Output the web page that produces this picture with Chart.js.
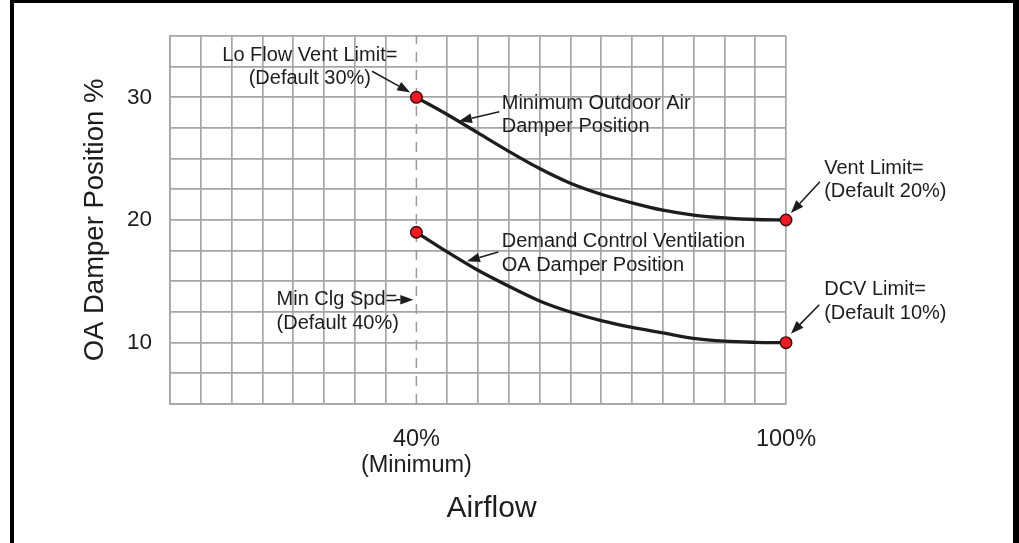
<!DOCTYPE html>
<html>
<head>
<meta charset="utf-8">
<script src="https://cdn.jsdelivr.net/npm/chart.js@4.4.1/dist/chart.umd.min.js"></script>
<style>
  html, body { margin: 0; padding: 0; background: #fff; }
  #wrap { position: relative; width: 1019px; height: 543px; overflow: hidden; }
  #frame {
    position: absolute; left: 10px; top: 0; width: 1009px; height: 560px;
    box-sizing: border-box; border: 4px solid #000; border-top-width: 3px;
    border-right-width: 6px; border-bottom: none; pointer-events: none;
  }
</style>
</head>
<body>
<div id="wrap">
  <canvas id="myChart" width="1019" height="543"></canvas>
  <div id="frame"></div>
</div>
<script>
// airflow (%) vs OA damper position (%)
var airflow = [40, 45, 50, 55, 60, 65, 70, 75, 80, 85, 90, 95, 100];
var minOaDamper = [30, 28.6, 27.1, 25.6, 24.2, 23.0, 22.1, 21.4, 20.8, 20.4, 20.17, 20.04, 20];
var dcvDamper = [19, 17.4, 15.9, 14.6, 13.4, 12.5, 11.8, 11.25, 10.8, 10.35, 10.12, 10.03, 10];
var minClgSpd = 40;

var xGrid = [0, 5, 10, 15, 20, 25, 30, 35, 40, 45, 50, 55, 60, 65, 70, 75, 80, 85, 90, 95, 100];
var yGrid = [5, 7.5, 10, 12.5, 15, 17.5, 20, 22.5, 25, 27.5, 30, 32.5, 35];
var xTickValues = [40, 100];
var xTickLabels = [["40%", "(Minimum)"], "100%"];
var yTickValues = [10, 20, 30];
var yTickLabels = ["10", "20", "30"];

var notes = [
  { text: ["Lo Flow Vent Limit=", "(Default 30%)"], at: [22.7, 33.43], align: "center", from: [32.8, 32.13], to: [39.0, 30.4] },
  { text: ["Minimum Outdoor Air", "Damper Position"], at: [53.85, 29.52], align: "left", from: [53.45, 28.82], to: [46.9, 28.06] },
  { text: ["Vent Limit=", "(Default 20%)"], at: [106.2, 24.24], align: "left", from: [105.5, 23.12], to: [100.8, 20.57] },
  { text: ["Demand Control Ventilation", "OA Damper Position"], at: [53.85, 18.21], align: "left", from: [53.3, 17.4], to: [48.2, 16.64] },
  { text: ["Min Clg Spd=", "(Default 40%)"], at: [17.3, 13.49], align: "left", from: [36.6, 13.5], to: [39.5, 13.5] },
  { text: ["DCV Limit=", "(Default 10%)"], at: [106.2, 14.3], align: "left", from: [105.4, 13.09], to: [100.8, 10.73] },
];

var ink = "#1f1c1d";
var gridColor = "#a6a6a6";
var fontFamily = '"Liberation Sans", Arial, Helvetica, sans-serif';
Chart.defaults.font.family = fontFamily;
Chart.defaults.color = ink;

function toPoints(xs, ys) {
  return xs.map(function (x, i) { return { x: x, y: ys[i] }; });
}

function endMarker(ctx) {
  var n = ctx.dataset.data.length;
  return ctx.dataIndex === 0 || ctx.dataIndex === n - 1 ? 5.8 : 0;
}

function drawArrow(c, x1, y1, x2, y2) {
  var ang = Math.atan2(y2 - y1, x2 - x1);
  var head = 13, half = 4.8;
  var bx = x2 - head * Math.cos(ang), by = y2 - head * Math.sin(ang);
  c.beginPath();
  c.moveTo(x1, y1);
  c.lineTo(bx, by);
  c.stroke();
  c.beginPath();
  c.moveTo(x2, y2);
  c.lineTo(bx + half * Math.sin(ang), by - half * Math.cos(ang));
  c.lineTo(bx - half * Math.sin(ang), by + half * Math.cos(ang));
  c.closePath();
  c.fill();
}

var notesPlugin = {
  id: "notes",
  afterDatasetsDraw: function (chart) {
    var c = chart.ctx, xs = chart.scales.x, ys = chart.scales.y;
    c.save();
    c.fillStyle = ink;
    c.strokeStyle = ink;
    c.lineWidth = 1.6;
    c.font = "20px " + fontFamily;
    c.textBaseline = "middle";
    notes.forEach(function (n) {
      var px = xs.getPixelForValue(n.at[0]), py = ys.getPixelForValue(n.at[1]);
      c.textAlign = n.align;
      n.text.forEach(function (line, i) {
        c.fillText(line, px, py + i * 23.5);
      });
      drawArrow(c,
        xs.getPixelForValue(n.from[0]), ys.getPixelForValue(n.from[1]),
        xs.getPixelForValue(n.to[0]), ys.getPixelForValue(n.to[1]));
    });
    // x axis title
    c.font = "30px " + fontFamily;
    c.textAlign = "center";
    c.fillText("Airflow", xs.getPixelForValue(52.2), 509);
    c.restore();
  },
};

var ctx = document.getElementById("myChart").getContext("2d");
var chart = new Chart(ctx, {
  type: "line",
  plugins: [notesPlugin],
  data: {
    datasets: [
      {
        label: "Minimum Outdoor Air Damper Position",
        data: toPoints(airflow, minOaDamper),
        borderColor: ink,
        borderWidth: 3.3,
        cubicInterpolationMode: "monotone",
        pointRadius: endMarker,
        pointBackgroundColor: "#ed1c24",
        pointBorderColor: "#3a0d0d",
        pointBorderWidth: 1.4,
        clip: false,
      },
      {
        label: "Demand Control Ventilation OA Damper Position",
        data: toPoints(airflow, dcvDamper),
        borderColor: ink,
        borderWidth: 3.3,
        cubicInterpolationMode: "monotone",
        pointRadius: endMarker,
        pointBackgroundColor: "#ed1c24",
        pointBorderColor: "#3a0d0d",
        pointBorderWidth: 1.4,
        clip: false,
      },
      {
        label: "Min Clg Spd",
        data: [{ x: minClgSpd, y: yGrid[0] }, { x: minClgSpd, y: yGrid[yGrid.length - 1] }],
        borderColor: "#9a9a9a",
        borderWidth: 1.5,
        borderDash: [10, 8],
        pointRadius: 0,
      },
    ],
  },
  options: {
    responsive: false,
    animation: false,
    devicePixelRatio: 1,
    layout: { padding: { top: 36, right: 233, left: 0, bottom: 0 } },
    plugins: {
      legend: { display: false },
      tooltip: { enabled: false },
    },
    scales: {
      x: {
        type: "linear",
        min: 0,
        max: 100,
        afterBuildTicks: function (scale) {
          scale.ticks = xGrid.map(function (v) { return { value: v }; });
        },
        afterFit: function (scale) { scale.height = 139; },
        ticks: {
          autoSkip: false,
          maxRotation: 0,
          minRotation: 0,
          padding: 22,
          color: ink,
          font: { size: 23.5, lineHeight: 1.13 },
          callback: function (v) {
            var i = xTickValues.indexOf(v);
            return i >= 0 ? xTickLabels[i] : "";
          },
        },
        grid: {
          drawTicks: false,
          lineWidth: 1.7,
          color: function (c) {
            return c.tick && c.tick.value === minClgSpd ? "rgba(0,0,0,0)" : gridColor;
          },
        },
        border: { display: true, color: gridColor, width: 1.7 },
      },
      y: {
        type: "linear",
        min: 5,
        max: 35,
        afterBuildTicks: function (scale) {
          scale.ticks = yGrid.map(function (v) { return { value: v }; });
        },
        afterFit: function (scale) { scale.width = 170; },
        ticks: {
          autoSkip: false,
          padding: 18,
          color: ink,
          font: { size: 22.5 },
          callback: function (v) {
            var i = yTickValues.indexOf(v);
            return i >= 0 ? yTickLabels[i] : "";
          },
        },
        grid: { drawTicks: false, lineWidth: 1.7, color: gridColor },
        border: { display: true, color: gridColor, width: 1.7 },
        title: {
          display: true,
          text: "OA Damper Position %",
          color: ink,
          font: { size: 27.5, lineHeight: 1.2 },
          padding: { top: 78.5, bottom: 0 },
        },
      },
    },
  },
});
</script>
</body>
</html>
